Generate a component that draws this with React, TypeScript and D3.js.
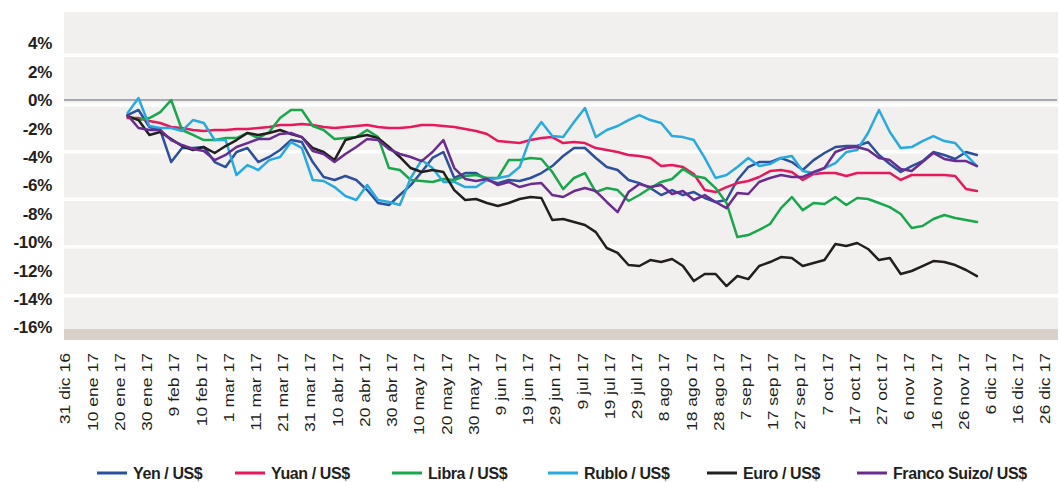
import React from 'react';
import * as d3 from 'd3';

// Variación acumulada de monedas frente al dólar (%), una lectura cada 4 días desde el 23 ene 17
const firstDay = Date.UTC(2017, 0, 23);
const stepDays = 4;

const yen = [-1.06, -0.70, -1.90, -2.11, -4.37, -3.38, -3.38, -3.31, -4.37, -4.72,
  -3.66, -3.38, -4.37, -4.01, -3.52, -2.82, -2.96, -4.37, -5.42, -5.63,
  -5.35, -5.63, -6.34, -7.25, -7.39, -6.69, -5.99, -5.07, -4.08, -3.66,
  -5.49, -5.14, -5.14, -5.63, -5.85, -5.63, -5.70, -5.49, -5.14, -4.65,
  -3.94, -3.38, -3.38, -4.08, -4.72, -4.93, -5.63, -5.85, -6.20, -6.69,
  -6.34, -6.69, -6.48, -6.90, -7.18, -7.04, -5.63, -4.72, -4.37, -4.37,
  -4.08, -4.37, -4.93, -4.23, -3.73, -3.31, -3.24, -3.24, -2.96, -3.87,
  -4.51, -5.07, -4.65, -4.30, -3.66, -3.87, -4.15, -3.66, -3.87];

const yuan = [-1.27, -1.27, -1.48, -1.62, -1.90, -1.97, -2.11, -2.18, -2.11, -2.11,
  -2.04, -2.04, -1.97, -1.90, -1.76, -1.76, -1.69, -1.76, -1.90, -1.97,
  -1.90, -1.83, -1.76, -1.90, -1.97, -1.97, -1.90, -1.76, -1.76, -1.83,
  -1.90, -2.04, -2.18, -2.39, -2.89, -2.96, -3.03, -2.82, -2.68, -2.61,
  -3.03, -2.96, -3.03, -3.38, -3.52, -3.66, -3.87, -3.94, -4.08, -4.65,
  -4.58, -4.72, -5.21, -6.34, -6.48, -6.13, -5.85, -5.70, -5.42, -5.00,
  -4.93, -5.07, -5.63, -5.21, -5.14, -5.14, -5.35, -5.14, -5.14, -5.14,
  -5.14, -5.63, -5.28, -5.28, -5.28, -5.28, -5.35, -6.27, -6.41];

const libra = [-1.13, -1.41, -1.27, -0.85, 0.00, -2.11, -2.46, -2.82, -2.82, -2.68,
  -2.68, -2.32, -2.68, -2.25, -1.27, -0.70, -0.70, -1.83, -2.11, -2.75,
  -2.68, -2.61, -2.11, -2.61, -4.79, -4.93, -5.63, -5.70, -5.77, -5.56,
  -5.63, -5.35, -5.28, -5.49, -5.49, -4.23, -4.23, -4.08, -4.15, -5.07,
  -6.27, -5.49, -5.14, -6.48, -6.20, -6.34, -7.11, -6.69, -6.20, -5.77,
  -5.56, -4.86, -5.35, -5.49, -6.20, -7.25, -9.65, -9.51, -9.15, -8.73,
  -7.61, -6.83, -7.75, -7.25, -7.32, -6.83, -7.39, -6.90, -6.97, -7.25,
  -7.54, -8.03, -9.01, -8.87, -8.38, -8.10, -8.31, -8.45, -8.59];

const rublo = [-0.92, 0.14, -1.83, -1.97, -1.97, -2.18, -1.41, -1.62, -2.82, -2.82,
  -5.28, -4.58, -4.93, -4.23, -4.01, -2.96, -3.38, -5.63, -5.70, -6.13,
  -6.76, -7.04, -5.99, -7.04, -7.18, -7.39, -5.49, -4.23, -4.79, -5.77,
  -5.77, -6.13, -6.13, -5.63, -5.49, -5.35, -4.72, -2.61, -1.55, -2.54,
  -2.61, -1.55, -0.56, -2.61, -2.11, -1.83, -1.41, -1.06, -1.41, -1.62,
  -2.54, -2.61, -2.82, -4.08, -5.49, -5.28, -4.72, -4.08, -4.65, -4.51,
  -4.08, -3.94, -5.00, -5.14, -4.79, -4.44, -3.66, -3.52, -2.32, -0.70,
  -2.25, -3.38, -3.31, -2.89, -2.54, -2.89, -3.03, -3.87, -4.65];

const euro = [-1.13, -1.41, -2.46, -2.25, -2.75, -3.24, -3.52, -3.31, -3.73, -3.24,
  -2.82, -2.32, -2.46, -2.32, -2.11, -2.39, -2.61, -3.38, -3.66, -4.23,
  -2.82, -2.61, -2.46, -2.68, -3.31, -4.01, -4.79, -5.07, -4.93, -5.07,
  -6.34, -7.04, -6.97, -7.25, -7.46, -7.25, -6.97, -6.83, -6.90, -8.45,
  -8.38, -8.59, -8.80, -9.30, -10.42, -10.77, -11.62, -11.69, -11.27, -11.41,
  -11.20, -11.69, -12.75, -12.25, -12.25, -13.10, -12.39, -12.61, -11.69, -11.41,
  -11.06, -11.13, -11.69, -11.48, -11.27, -10.14, -10.28, -10.07, -10.49, -11.27,
  -11.13, -12.25, -12.04, -11.69, -11.34, -11.41, -11.62, -11.97, -12.40];

const francoSuizo = [-1.06, -1.97, -2.11, -2.11, -2.82, -3.17, -3.45, -3.59, -4.23, -3.87,
  -3.31, -3.03, -2.75, -2.75, -2.39, -2.32, -2.61, -3.59, -3.80, -4.37,
  -3.80, -3.31, -2.75, -2.82, -3.45, -3.80, -4.01, -4.30, -3.66, -2.82,
  -4.79, -5.56, -5.70, -5.56, -5.99, -5.77, -6.13, -5.92, -5.85, -6.69,
  -6.83, -6.41, -6.20, -6.41, -7.18, -7.89, -6.48, -5.92, -6.13, -5.99,
  -6.62, -6.41, -7.04, -6.69, -7.18, -7.61, -6.55, -6.62, -5.77, -5.49,
  -5.28, -5.42, -5.42, -5.07, -4.79, -3.66, -3.38, -3.31, -3.52, -4.08,
  -4.23, -4.86, -5.00, -4.37, -3.73, -4.15, -4.30, -4.30, -4.65];

const seriesNames = ['Yen / US$', 'Yuan / US$', 'Libra / US$', 'Rublo / US$', 'Euro / US$', 'Franco Suizo/ US$'];
const seriesValues = [yen, yuan, libra, rublo, euro, francoSuizo];
const seriesColors = ['#2c4f9f', '#e8185c', '#17a84b', '#27aae1', '#231f20', '#6a2c91'];

const yTicks = [4, 2, 0, -2, -4, -6, -8, -10, -12, -14, -16];
// franjas blancas del fondo (%)
const bandLines = [3.15, -0.35, -3.64, -6.99, -10.33, -13.78];

const tickStart = Date.UTC(2016, 11, 31);
const xTickLabels = ['31 dic 16', '10 ene 17', '20 ene 17', '30 ene 17', '9 feb 17', '10 feb 17',
  '1 mar 17', '11 mar 17', '21 mar 17', '31 mar 17', '10 abr 17', '20 abr 17', '30 abr 17',
  '10 may 17', '20 may 17', '30 may 17', '9 jun 17', '19 jun 17', '29 jun 17', '9 jul 17',
  '19 jul 17', '29 jul 17', '8 ago 17', '18 ago 17', '28 ago 17', '7 sep 17', '17 sep 17',
  '27 sep 17', '7 oct 17', '17 oct 17', '27 oct 17', '6 nov 17', '16 nov 17', '26 nov 17',
  '6 dic 17', '16 dic 17', '26 dic 17'];

const W = 1059;
const H = 482;
const plot = { left: 64, right: 1058, top: 12, bottom: 340 };
const textColor = '#231f20';
const font = "'Liberation Sans', Arial, sans-serif";

export default function App() {
  const t0 = new Date(tickStart);
  const x = d3.scaleTime()
    .domain([t0, d3.utcDay.offset(t0, 360)])
    .range([65, 1045]);

  const y = d3.scaleLinear()
    .domain([-16.9, 6.2])
    .range([plot.bottom, plot.top]);

  const line = d3.line<number>()
    .x((_, i) => x(d3.utcDay.offset(new Date(firstDay), i * stepDays)))
    .y(d => y(d));

  const legendX = [97, 235, 392, 548, 707, 857];
  const legendY = 473;

  return (
    <svg width={W} height={H} style={{ position: 'absolute', left: 0, top: 0, background: '#fff' }}>
      {/* fondo */}
      <rect x={plot.left} y={plot.top} width={plot.right - plot.left} height={plot.bottom - plot.top} fill="#f1f0ee" />
      <rect x={plot.left} y={y(-16.13)} width={plot.right - plot.left} height={plot.bottom - y(-16.13)} fill="#d9d0ca" />
      {bandLines.map(v => (
        <line key={v} x1={plot.left} x2={plot.right} y1={y(v)} y2={y(v)} stroke="#fff" strokeWidth={3.5} />
      ))}
      <line x1={plot.left} x2={plot.right - 1} y1={y(0)} y2={y(0)} stroke="#a7a9ac" strokeWidth={2} />

      {/* eje Y */}
      {yTicks.map(v => (
        <text key={v} x={52} y={y(v)} dy="0.36em" textAnchor="end"
          fontFamily={font} fontWeight="bold" fontSize={17}
          letterSpacing={-0.3} fill={textColor}>
          {v}%
        </text>
      ))}

      {/* eje X */}
      {xTickLabels.map((lab, i) => {
        const px = x(d3.utcDay.offset(t0, i * 10));
        return (
          <text key={lab + i} transform={`translate(${px},353) rotate(-90) scale(1.17,1)`} dy="0.36em"
            textAnchor="end" fontFamily={font} fontSize={15} fill={textColor}>
            {lab}
          </text>
        );
      })}

      {/* series */}
      {seriesValues.map((vals, k) => (
        <path key={seriesNames[k]} d={line(vals) || ''} fill="none" stroke={seriesColors[k]}
          strokeWidth={2.5} strokeLinejoin="round" strokeLinecap="round" />
      ))}

      {/* leyenda */}
      {seriesNames.map((name, k) => (
        <g key={name} transform={`translate(${legendX[k]},${legendY})`}>
          <line x1={0} x2={30} y1={0} y2={0} stroke={seriesColors[k]} strokeWidth={3} />
          <text x={36} y={0} dy="0.36em" fontFamily={font} letterSpacing={-0.4}
            fontWeight="bold" fontSize={16} fill={textColor}>
            {name}
          </text>
        </g>
      ))}
    </svg>
  );
}
